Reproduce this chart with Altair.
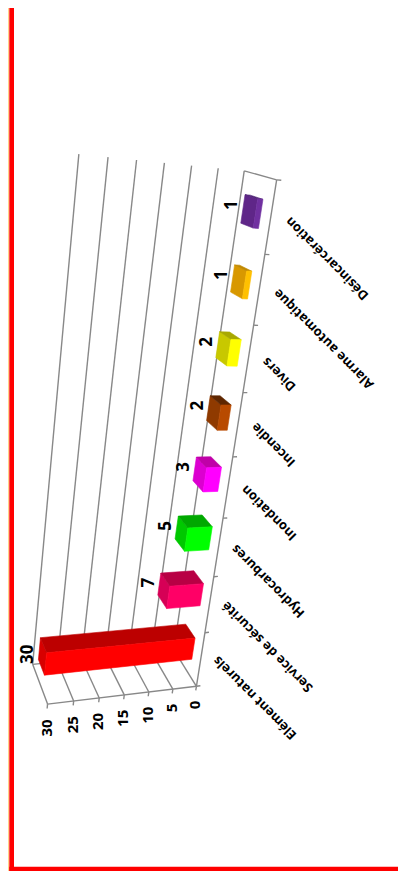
import altair as alt
import numpy as np
import pandas as pd

# ---- chart values ----
categories = ["Elément naturels", "Service de sécurité", "Hydrocarbures", "Inondation",
              "Incendie", "Divers", "Alarme automatique", "Désincarcération"]
values = [30, 7, 5, 3, 2, 2, 1, 1]
front_colors = ["#FF0000", "#FF0066", "#00FF00", "#FF00FF", "#B84A00", "#FFFF00", "#FFC000", "#7030A0"]
top_colors = ["#BC0000", "#B80044", "#00A800", "#C000A8", "#5E2600", "#A8A800", "#C08800", "#4F2275"]
cap_colors = ["#D80000", "#D60056", "#00C800", "#DC00D0", "#8F3A00", "#C8C800", "#D89800", "#5F2688"]
value_ticks = [0, 5, 10, 15, 20, 25, 30]

# ---- 3D view: (value, category slot, depth) seen on the page ----
view_from = [
    (0,0,0),(5,0,0),(10,0,0),(15,0,0),(20,0,0),(25,0,0),(30,0,0),
    (0,1,0),(0,2,0),(0,3,0),(0,4,0),(0,5,0),(0,6,0),(0,7,0),(0,8,0),
    (0,8,1),(5,8,1),(10,8,1),(15,8,1),(20,8,1),(25,8,1),(30,8,1),
    (0,0,1),(30,0,1),
    (0,.7,.3),(0,.3,.3),(0,7.7,.3),(0,7.3,.3),(30,.7,.3),(30,.3,.3),(30,.7,.7),(0,.7,.7),(1,7.7,.7),
]
view_to = [
    (197,687),(172.7,689.3),(148.3,691.7),(124,695),(99.3,698),(73.3,700),(47.7,702.7),
    (205.5,632.7),(214.2,576.7),(223.4,518),(233,456.7),(243.2,391),(253.4,325.7),(264.5,255),(276,180),
    (244,171),(218.7,168),(192,165.7),(164.7,162.7),(136.7,160),(108,157),(78.7,154),
    (172,645),(33.6,667),
    (195,640),(192.7,660),(262.7,199),(258.3,228.3),(45,653.3),(45,674),(40.7,638),(186,626.7),(245,195),
]
rows, rhs = [], []
for (v, c, d), (X, Y) in zip(view_from, view_to):
    rows.append([v, c, d, 1, 0, 0, 0, 0, -X*v, -X*c, -X*d]); rhs.append(X)
    rows.append([0, 0, 0, 0, v, c, d, 1, -Y*v, -Y*c, -Y*d]); rhs.append(Y)
P = np.linalg.lstsq(np.array(rows, float), np.array(rhs, float), rcond=None)[0]
MARGIN = 8

def proj(v, c, d):
    w = 1 + P[8]*v + P[9]*c + P[10]*d
    return ((P[0]*v + P[1]*c + P[2]*d + P[3]) / w - MARGIN,
            (P[4]*v + P[5]*c + P[6]*d + P[7]) / w - MARGIN)

W, H = 390, 863
xs = alt.Scale(domain=[0, W], range=[0, W], nice=False, zero=False)
ys = alt.Scale(domain=[0, H], range=[0, H], nice=False, zero=False)
X = lambda f="x": alt.X(f + ":Q", scale=xs, axis=None)
Y = lambda f="y": alt.Y(f + ":Q", scale=ys, axis=None)

# grid and axes
seg_rows = []
def add(a, b):
    i = len(seg_rows) // 2
    for k, p in enumerate((a, b)):
        x, y = proj(*p)
        seg_rows.append(dict(id=i, k=k, x=x, y=y))
for t in value_ticks:
    add((t, 0, 1), (t, 8, 1))
    add((t, 0, 1), (t, 0, 0))
    add((t, 0, 0), (t, -0.08, 0))
add((0, 0, 0), (30, 0, 0))
add((0, 0, 0), (0, 8, 0))
add((0, 8, 0), (0, 8, 1))
add((0, 0, 1), (30, 0, 1))
for i in range(9):
    add((0, i, 0), (-0.85, i, 0))
grid = alt.Chart(pd.DataFrame(seg_rows)).mark_line(color="#888888", strokeWidth=1.4).encode(
    x=X(), y=Y(), detail="id:N", order="k:Q")

# bars
face_rows = []
fid = 0
for i, (val, fc, tc, cc) in enumerate(zip(values, front_colors, top_colors, cap_colors)):
    c0, c1, d0, d1 = i + .3, i + .7, .3, .7
    faces = [
        (cc, [(val,c0,d0),(val,c1,d0),(val,c1,d1),(val,c0,d1)]),
        (tc, [(0,c1,d0),(val,c1,d0),(val,c1,d1),(0,c1,d1)]),
        (fc, [(0,c0,d0),(val,c0,d0),(val,c1,d0),(0,c1,d0)]),
    ]
    for col, pts in faces:
        for k, p in enumerate(pts + pts[:1]):
            x, y = proj(*p)
            face_rows.append(dict(id=f"{fid:03d}", k=k, x=x, y=y, col=col))
        fid += 1
bars = alt.Chart(pd.DataFrame(face_rows)).mark_line(strokeWidth=0.6).encode(
    x=X(), y=Y(), detail="id:N", order="k:Q",
    color=alt.Color("col:N", scale=None), fill=alt.Fill("col:N", scale=None))

# texts
FONT = "Open Sans"
tick_df = pd.DataFrame([dict(zip("xy", proj(t - 0.2, -0.28, 0)), t=str(t)) for t in value_ticks])
tick_text = alt.Chart(tick_df).mark_text(font=FONT, fontWeight="bold", fontSize=15, angle=270,
                                         align="right", baseline="middle", color="#000000").encode(
    x=X(), y=Y(), text="t:N")
val_df = pd.DataFrame([dict(zip("xy", proj(v + 2.2, i + .5 + (-0.08 if v == 30 else 0.04), .7)), t=str(v))
                       for i, v in enumerate(values)])
val_text = alt.Chart(val_df).mark_text(font=FONT, fontWeight="bold", fontSize=17, angle=270,
                                       align="center", baseline="middle", color="#000000").encode(
    x=X(), y=Y(), text="t:N")
cat_df = pd.DataFrame([dict(zip("xy", proj(-3.2, i + .5, 0)), t=n) for i, n in enumerate(categories)])
cat_text = alt.Chart(cat_df).mark_text(font=FONT, fontWeight="bold", fontSize=13, angle=225,
                                       align="right", baseline="middle", color="#000000").encode(
    x=X(), y=Y(), text="t:N")

# frame
frame_edge = pd.DataFrame([dict(x=0, x2=1, y=0, y2=H)])
left_edge = alt.Chart(frame_edge).mark_rect(color="#FFD48C").encode(x=X(), x2="x2:Q", y=Y(), y2="y2:Q")
red_df = pd.DataFrame([dict(x=1.3, x2=6, y=0, y2=H), dict(x=1.3, x2=W, y=858.7, y2=H)])
red = alt.Chart(red_df).mark_rect(color="#FF0000").encode(x=X(), x2="x2:Q", y=Y(), y2="y2:Q")

chart = alt.layer(left_edge, red, grid, bars, tick_text, val_text, cat_text).properties(
    width=W, height=H, padding=0, background="#FFFFFF",
    autosize=alt.AutoSizeParams(type="none")
).configure_view(stroke=None)
chart.save("out.html", embed_options={"renderer": "svg", "actions": False})
